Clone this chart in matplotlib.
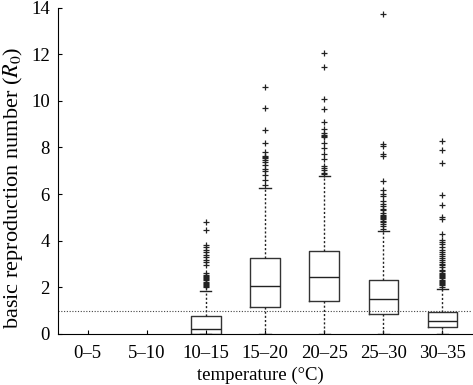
import matplotlib
matplotlib.use('Agg')
import matplotlib.pyplot as plt

plt.rcParams['font.family'] = ['Liberation Serif', 'DejaVu Serif']
plt.rcParams['mathtext.fontset'] = 'stix'

categories = ['0–5', '5–10', '10–15', '15–20', '20–25', '25–30', '30–35']

# box statistics (None = no data in that class)
q1 = [None, None, 0.0, 1.17, 1.40, 0.86, 0.29]
med = [None, None, 0.2, 2.05, 2.43, 1.50, 0.54]
q3 = [None, None, 0.75, 3.24, 3.57, 2.30, 0.94]
wlo = [None, None, 0.0, 0.0, 0.0, 0.0, 0.0]
whi = [None, None, 1.85, 6.28, 6.76, 4.42, 1.93]

fliers_10_15 = [2.0, 2.05, 2.1, 2.15, 2.2, 2.25, 2.3, 2.35, 2.4, 2.45, 2.5, 2.55, 2.6,
                2.95, 3.07, 3.17, 3.28, 3.37, 3.5, 3.6, 3.71, 3.81, 4.44, 4.81]
fliers_15_20 = [6.38, 6.59, 6.81, 7.0, 7.09, 7.25, 7.36, 7.48, 7.55, 7.6, 7.65,
                7.8, 8.18, 8.75, 9.7, 10.57]
fliers_20_25 = [6.85, 6.92, 7.02, 7.12, 7.2, 7.5, 7.73, 7.98, 8.19, 8.45, 8.5,
                8.55, 8.6, 8.8, 9.1, 9.65, 10.07, 11.47, 12.03]
fliers_25_30 = [4.52, 4.62, 4.71, 4.81, 4.86, 4.91, 4.96, 5.01, 5.06, 5.12, 5.17,
                5.31, 5.38, 5.48, 5.59, 5.71, 5.92, 6.02, 6.19, 6.56,
                7.63, 7.72, 8.08, 8.16, 13.73]
fliers_30_35 = [2.03, 2.08, 2.13, 2.18, 2.23, 2.28, 2.33, 2.38, 2.43, 2.48, 2.53,
                2.58, 2.63, 2.68, 2.74, 2.88, 2.95, 3.02, 3.1, 3.18, 3.26, 3.34,
                3.42, 3.5, 3.6, 3.74, 3.85, 3.94, 4.02, 4.28, 4.92, 5.02, 5.54,
                5.96, 7.35, 7.9, 8.26]
fliers = [[], [], fliers_10_15, fliers_15_20, fliers_20_25, fliers_25_30, fliers_30_35]

threshold = 1.0

fig = plt.figure(figsize=(4.73, 3.85), dpi=100)
ax = fig.add_axes([0.1226, 0.1325, 0.8754, 0.848])

stats = []
pos = []
for i in range(len(categories)):
    if med[i] is None:
        continue
    stats.append({'q1': q1[i], 'med': med[i], 'q3': q3[i],
                  'whislo': wlo[i], 'whishi': whi[i], 'fliers': fliers[i]})
    pos.append(i + 1)

ax.axhline(threshold, color='#444444', ls=(0, (1, 1.5)), lw=0.8, zorder=1)

ax.bxp(stats, positions=pos, widths=0.5, capwidths=0.19,
       boxprops=dict(color='#333333', lw=1.0),
       medianprops=dict(color='#222222', lw=1.0),
       whiskerprops=dict(color='#222222', lw=1.0, ls=(0, (1.5, 1.5))),
       capprops=dict(color='#222222', lw=1.0),
       flierprops=dict(marker='+', markeredgecolor='#222222', markersize=5,
                       markeredgewidth=0.9, linestyle='none'))

ax.set_xlim(0.5, 7.5)
ax.set_ylim(0, 14)
ax.set_xticks(range(1, len(categories) + 1))
ax.set_xticklabels(categories)
ax.set_yticks(range(0, 15, 2))
ax.spines['top'].set_visible(False)
ax.spines['right'].set_visible(False)
ax.tick_params(direction='in', length=3, labelsize=13.5)
ax.tick_params(axis='x', pad=8)
ax.tick_params(axis='y', pad=6)
ax.set_xlabel('temperature (°C)', fontsize=13.5)
ax.set_ylabel('basic reproduction number ($R_0$)', fontsize=16)
ax.xaxis.set_label_coords(0.488, -0.1)
ax.yaxis.set_label_coords(-0.08, 0.449)

fig.savefig('out.png', dpi=100)
